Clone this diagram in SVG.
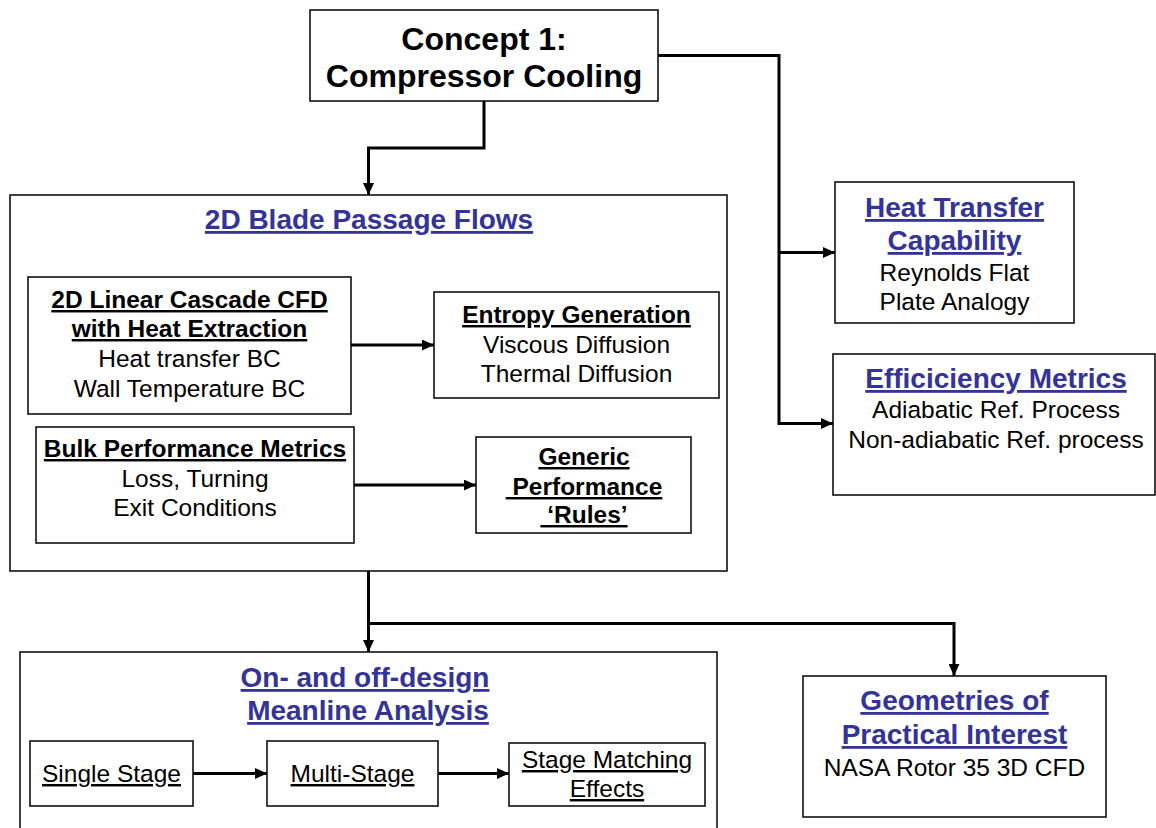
<svg xmlns="http://www.w3.org/2000/svg" width="1156" height="828" viewBox="0 0 1156 828">
  <style>
    text { font-family: "Liberation Sans", Arial, sans-serif; text-anchor: middle; fill: #000; }
    .box { fill: #fff; stroke: #111; stroke-width: 1.6; }
    .concept { font-size: 32px; font-weight: bold; }
    .title { font-size: 28px; font-weight: bold; fill: #333399; text-decoration: underline; }
    .head { font-size: 24.5px; font-weight: bold; text-decoration: underline; }
    .body { font-size: 24.5px; }
    .ul { text-decoration: underline; }
    .link { fill: none; stroke: #000; stroke-width: 3; }
  </style>
  <defs>
    <marker id="arrow" markerUnits="userSpaceOnUse" markerWidth="13" markerHeight="11" refX="12" refY="5.5" orient="auto">
      <path d="M0,0 L12,5.5 L0,11 z" fill="#000"/>
    </marker>
  </defs>
  <rect width="1156" height="828" fill="#fff"/>

  <!-- top-level concept -->
  <g id="concept">
    <rect class="box" x="310" y="10" width="348" height="91"/>
    <text class="concept" x="484" y="50">Concept 1:</text>
    <text class="concept" x="484" y="87">Compressor Cooling</text>
  </g>

  <!-- 2D blade passage flows container -->
  <g id="blade-passage">
    <rect class="box" x="10" y="195" width="717" height="376"/>
    <text class="title" x="369" y="229">2D Blade Passage Flows</text>
  </g>

  <g id="cascade-cfd">
    <rect class="box" x="28" y="277" width="323" height="137"/>
    <text class="head" x="189.5" y="308">2D Linear Cascade CFD</text>
    <text class="head" x="189.5" y="337">with Heat Extraction</text>
    <text class="body" x="189.5" y="367">Heat transfer BC</text>
    <text class="body" x="189.5" y="397">Wall Temperature BC</text>
  </g>

  <g id="entropy">
    <rect class="box" x="434" y="292" width="285" height="106"/>
    <text class="head" x="576.5" y="323">Entropy Generation</text>
    <text class="body" x="576.5" y="353">Viscous Diffusion</text>
    <text class="body" x="576.5" y="382">Thermal Diffusion</text>
  </g>

  <g id="bulk-metrics">
    <rect class="box" x="36" y="427" width="318" height="116"/>
    <text class="head" x="195" y="457">Bulk Performance Metrics</text>
    <text class="body" x="195" y="487">Loss, Turning</text>
    <text class="body" x="195" y="516">Exit Conditions</text>
  </g>

  <g id="generic-rules">
    <rect class="box" x="476" y="437" width="215" height="96"/>
    <text class="head" x="584" y="465">Generic</text>
    <text class="head" x="584" y="495">&#160;Performance</text>
    <text class="head" x="584" y="523">&#160;‘Rules’</text>
  </g>

  <!-- right-hand branches -->
  <g id="heat-transfer">
    <rect class="box" x="835" y="182" width="239" height="141"/>
    <text class="title" x="954.5" y="217">Heat Transfer</text>
    <text class="title" x="954.5" y="250">Capability</text>
    <text class="body" x="954.5" y="281">Reynolds Flat</text>
    <text class="body" x="954.5" y="310">Plate Analogy</text>
  </g>

  <g id="efficiency">
    <rect class="box" x="833" y="354" width="322" height="141"/>
    <text class="title" x="996" y="388">Efficiciency Metrics</text>
    <text class="body" x="996" y="418">Adiabatic Ref. Process</text>
    <text class="body" x="996" y="448">Non-adiabatic Ref. process</text>
  </g>

  <!-- meanline analysis container -->
  <g id="meanline">
    <rect class="box" x="20" y="652" width="697" height="190"/>
    <text class="title" x="365" y="687">On- and off-design</text>
    <text class="title" x="368" y="720">Meanline Analysis</text>
  </g>

  <g id="single-stage">
    <rect class="box" x="30" y="741" width="163" height="65"/>
    <text class="body ul" x="111.5" y="782">Single Stage</text>
  </g>

  <g id="multi-stage">
    <rect class="box" x="267" y="741" width="171" height="65"/>
    <text class="body ul" x="352.5" y="782">Multi-Stage</text>
  </g>

  <g id="stage-matching">
    <rect class="box" x="509" y="743" width="196" height="63"/>
    <text class="body ul" x="607" y="768">Stage Matching</text>
    <text class="body ul" x="607" y="797">Effects</text>
  </g>

  <g id="geometries">
    <rect class="box" x="803" y="676" width="303" height="141"/>
    <text class="title" x="954.5" y="710">Geometries of</text>
    <text class="title" x="954.5" y="744">Practical Interest</text>
    <text class="body" x="954.5" y="776">NASA Rotor 35 3D CFD</text>
  </g>

  <!-- connectors -->
  <g id="connectors">
    <path class="link" d="M484,101 V148 H368.5 V195" marker-end="url(#arrow)"/>
    <path class="link" d="M658,55.5 H779 V423.5 H833" marker-end="url(#arrow)"/>
    <path class="link" d="M779,252.5 H835" marker-end="url(#arrow)"/>
    <path class="link" d="M351,345 H434" marker-end="url(#arrow)"/>
    <path class="link" d="M354,485 H476" marker-end="url(#arrow)"/>
    <path class="link" d="M368.5,571 V652" marker-end="url(#arrow)"/>
    <path class="link" d="M368.5,623.5 H954 V676" marker-end="url(#arrow)"/>
    <path class="link" d="M193,773.5 H267" marker-end="url(#arrow)"/>
    <path class="link" d="M438,773.5 H509" marker-end="url(#arrow)"/>
  </g>
</svg>
